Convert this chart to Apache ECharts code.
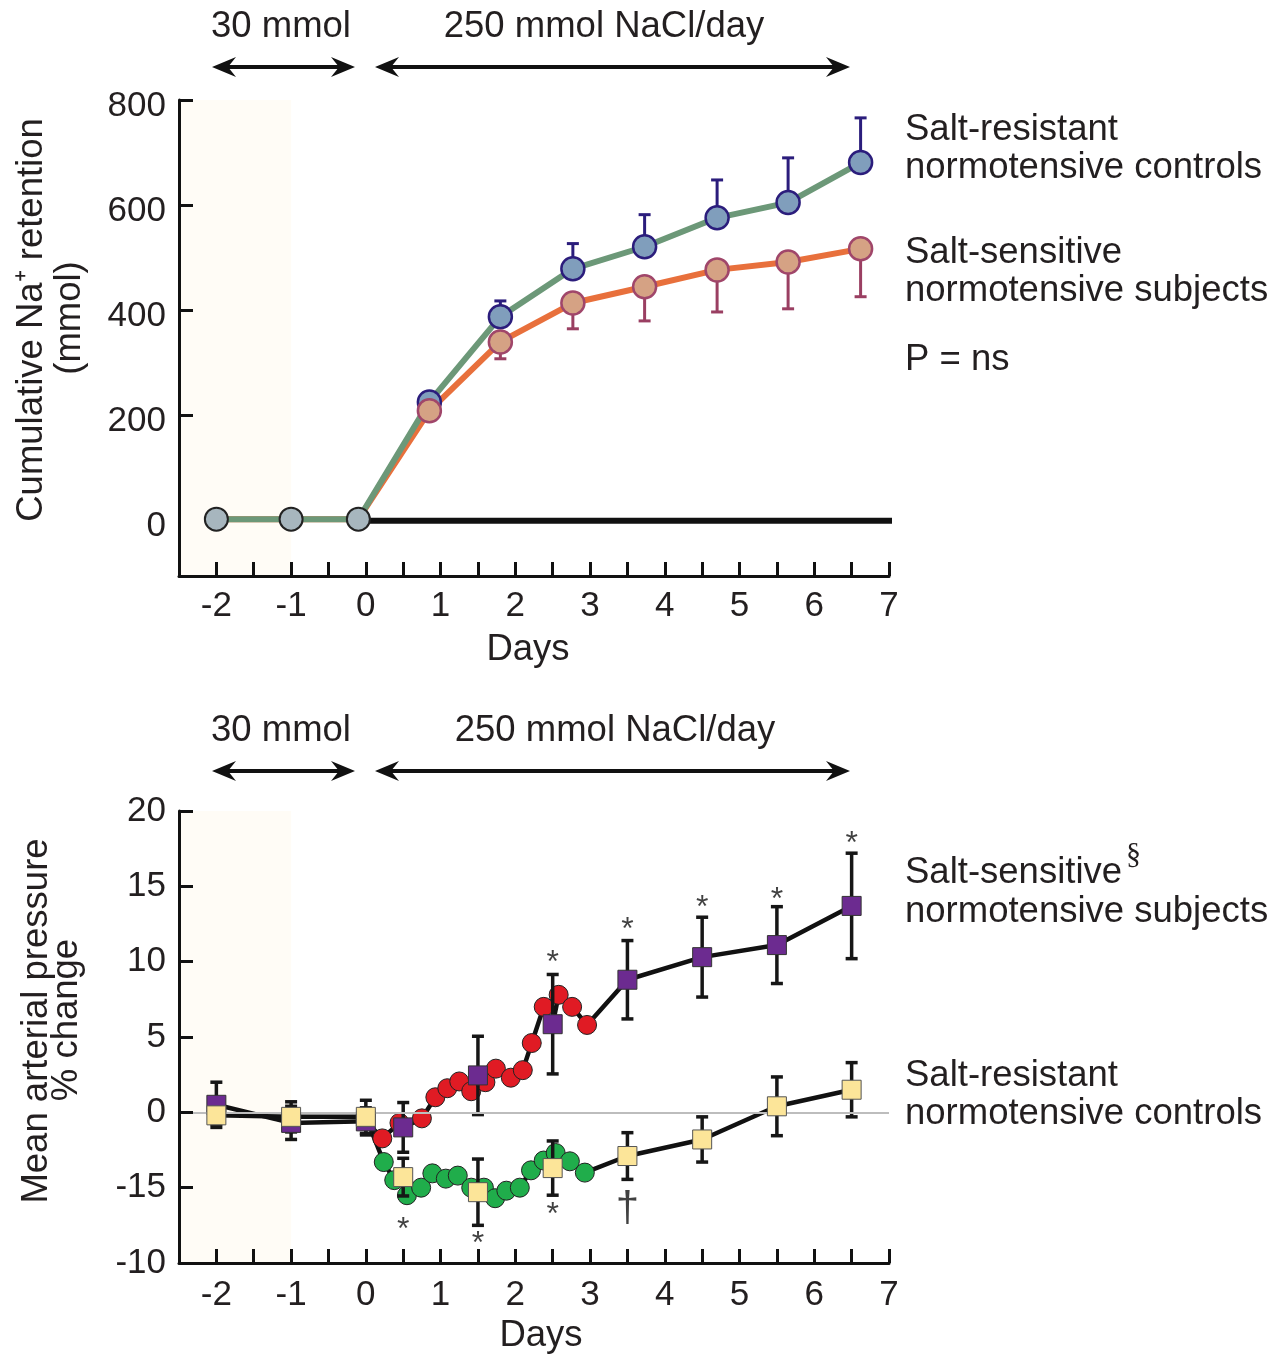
<!DOCTYPE html>
<html><head><meta charset="utf-8">
<script src="https://cdn.jsdelivr.net/npm/echarts@6/dist/echarts.min.js"></script>
<style>html,body{margin:0;padding:0;background:#fff}#c{width:1288px;height:1357px}</style>
</head><body><div id="c"></div>
<script>
// ---------- Top panel: cumulative Na+ retention (mmol) ----------
const naDays = [-2, -1, -0.1, 0.85, 1.8, 2.77, 3.73, 4.7, 5.65, 6.62];
const naResistant = [3, 3, 3, 226, 388, 479, 521, 576, 605, 681];
const naResistantErr = [0, 0, 0, 0, 30, 48, 61, 72, 85, 85];
const naSensitive = [3, 3, 3, 209, 340, 414, 445, 477, 492, 517];
const naSensitiveErr = [0, 0, 0, 0, 32, 49, 65, 80, 89, 91];
const naBaselinePhase = 3; // first points = 30 mmol period (grey markers)
const naZeroLine = [[-0.1, 0], [7.1, 0]];
const naTickValues = [0, 200, 400, 600, 800];

// ---------- Bottom panel: mean arterial pressure % change ----------
const mapDays = [-2, -1, 0, 0.5, 1.5, 2.5, 3.5, 4.5, 5.5, 6.5];
const mapSensitive = [0.5, -0.7, -0.6, -1.0, 2.45, 5.85, 8.8, 10.3, 11.1, 13.7];
const mapSensitiveErr = [1.5, 1.1, 0.9, 1.65, 2.6, 3.3, 2.6, 2.65, 2.55, 3.5];
const mapResistant = [-0.2, -0.3, -0.3, -4.3, -5.3, -3.7, -2.9, -1.8, 0.4, 1.5];
const mapResistantErr = [0.6, 1.0, 1.1, 1.25, 2.2, 1.8, 1.55, 1.5, 1.95, 1.8];
const contSensDays = [0.22, 0.45, 0.75, 0.93, 1.09, 1.25, 1.41, 1.6, 1.74, 1.94, 2.1, 2.22, 2.38, 2.58, 2.76, 2.96];
const contSens = [-1.73, -0.7, -0.4, 1.0, 1.6, 2.05, 1.4, 2.0, 2.9, 2.3, 2.8, 4.6, 7.0, 7.8, 7.0, 5.8];
const contResDays = [0.24, 0.38, 0.55, 0.74, 0.89, 1.07, 1.23, 1.41, 1.58, 1.73, 1.88, 2.06, 2.21, 2.38, 2.54, 2.73, 2.93];
const contRes = [-3.3, -4.5, -5.5, -5.0, -4.05, -4.4, -4.2, -5.0, -5.0, -5.7, -5.2, -5.0, -3.85, -3.2, -2.7, -3.25, -4.0];
const starsAbove = [[2.5, 10.4], [3.5, 12.6], [4.5, 14.1], [5.5, 14.6], [6.5, 18.3]];
const starsBelow = [[0.5, -7.3], [1.5, -8.2], [2.5, -6.3]];
const daggers = [[3.5, -6.3]];
const mapTickValues = [-10, -5, 0, 5, 10, 15, 20];
const mapTickLabels = ['-10', '-15', '0', '5', '10', '15', '20'];

const FONT = '"Liberation Sans", Arial, Helvetica, sans-serif';
const INK = '#231f20';
const TXT = 36.5;
const TICK = 35;

function zip(xs, ys) { return xs.map((x, i) => [x, ys[i]]); }
function merged(a, b) { return a.concat(b).sort((p, q) => p[0] - q[0]); }

function errBars(gi, days, vals, errs, dir, color, width, cap, z) {
  return {
    type: 'custom', xAxisIndex: gi, yAxisIndex: gi, z: z, silent: true,
    encode: { x: 0, y: 1 },
    data: days.map((d, i) => [d, vals[i], errs[i]]),
    renderItem: function (params, api) {
      const x = api.value(0), v = api.value(1), e = api.value(2);
      if (!e) return { type: 'group', children: [] };
      const c = api.coord([x, v]);
      const ends = [];
      if (dir >= 0) ends.push(api.coord([x, v + e]));
      if (dir <= 0) ends.push(api.coord([x, v - e]));
      const children = [];
      ends.forEach(p => {
        children.push({ type: 'line', shape: { x1: c[0], y1: c[1], x2: p[0], y2: p[1] }, style: { stroke: color, lineWidth: width } });
        children.push({ type: 'line', shape: { x1: p[0] - cap / 2, y1: p[1], x2: p[0] + cap / 2, y2: p[1] }, style: { stroke: color, lineWidth: width } });
      });
      return { type: 'group', children: children };
    }
  };
}

function xAxisCfg(gi) {
  return {
    type: 'value', gridIndex: gi, min: -2.5, max: 7, interval: 0.5, z: 10,
    axisLine: { show: true, onZero: false, lineStyle: { color: '#111', width: 3 } },
    axisTick: { show: true, inside: true, length: 14, lineStyle: { color: '#111', width: 3 } },
    axisLabel: { show: true, margin: gi === 0 ? 13 : 15, fontFamily: FONT, fontSize: TICK, color: INK,
      formatter: v => Number.isInteger(v) ? String(v) : '' },
    splitLine: { show: false }
  };
}

function txt(x, y, text, size, opts) {
  opts = opts || {};
  return {
    type: 'text', x: x, y: y, rotation: opts.rotation || 0, silent: true,
    style: { text: text, font: (size) + 'px ' + (opts.family || FONT), fill: INK,
      textAlign: opts.align || 'left', textVerticalAlign: 'middle',
      align: opts.align || 'left', verticalAlign: 'middle' }
  };
}

function arrow(x1, x2, y) {
  const L = 24, W = 10, N = 8;
  return [
    { type: 'line', silent: true, shape: { x1: x1 + 8, y1: y, x2: x2 - 8, y2: y }, style: { stroke: '#111', lineWidth: 4 } },
    { type: 'polygon', silent: true, shape: { points: [[x1, y], [x1 + L, y - W], [x1 + L - N, y], [x1 + L, y + W]] }, style: { fill: '#111' } },
    { type: 'polygon', silent: true, shape: { points: [[x2, y], [x2 - L, y - W], [x2 - L + N, y], [x2 - L, y + W]] }, style: { fill: '#111' } }
  ];
}

const naCircle = (fill, border) => (v, i) => ({
  value: v,
  itemStyle: i < naBaselinePhase
    ? { color: '#a7b6be', borderColor: '#222', borderWidth: 2, opacity: 1 }
    : { color: fill, borderColor: border, borderWidth: 2.5, opacity: 1 }
});

const chart = echarts.init(document.getElementById('c'), null, { renderer: 'canvas' });

const CREAM = '#fffcf6';

const option = {
  animation: false,
  backgroundColor: '#ffffff',
  grid: [
    { left: 179, right: 399, top: 100, bottom: 781 },
    { left: 179, right: 399, top: 811, bottom: 94 }
  ],
  xAxis: [xAxisCfg(0), xAxisCfg(1)],
  yAxis: [
    {
      type: 'value', gridIndex: 0, min: -105, max: 800, z: 10,
      axisLine: { show: true, onZero: false, lineStyle: { color: '#111', width: 3 } },
      axisTick: { show: true, inside: true, length: 14, customValues: naTickValues.slice(1), lineStyle: { color: '#111', width: 3 } },
      axisLabel: { show: true, margin: 13, color: INK, customValues: naTickValues,
        formatter: v => '{t|' + v + '}',
        rich: { t: { fontFamily: FONT, fontSize: TICK, color: INK, padding: [12, 0, 0, 0] } } },
      splitLine: { show: false }
    },
    {
      type: 'value', gridIndex: 1, min: -10, max: 20, interval: 5, z: 10,
      axisLine: { show: true, onZero: false, lineStyle: { color: '#111', width: 3 } },
      axisTick: { show: true, inside: true, length: 14, lineStyle: { color: '#111', width: 3 } },
      axisLabel: { show: true, margin: 13, fontFamily: FONT, fontSize: TICK, color: INK,
        formatter: v => { const k = mapTickValues.indexOf(v); return k >= 0 ? mapTickLabels[k] : ''; } },
      splitLine: { show: false }
    }
  ],
  series: [
    // ---- top panel ----
    {
      type: 'line', xAxisIndex: 0, yAxisIndex: 0, z: 1, silent: true, symbol: 'none', clip: false,
      data: naZeroLine, lineStyle: { color: '#111', width: 6 },
      markArea: { silent: true, itemStyle: { color: CREAM }, data: [[{ xAxis: -2.5 }, { xAxis: -1 }]] }
    },
    {
      name: 'Salt-sensitive', type: 'line', xAxisIndex: 0, yAxisIndex: 0, z: 2, silent: true, symbol: 'none',
      data: zip(naDays, naSensitive), lineStyle: { color: '#e8703c', width: 6 }
    },
    {
      name: 'Salt-resistant', type: 'line', xAxisIndex: 0, yAxisIndex: 0, z: 3, silent: true, symbol: 'none',
      data: zip(naDays, naResistant), lineStyle: { color: '#6c9878', width: 6 }
    },
    errBars(0, naDays, naResistant, naResistantErr, 1, '#2b1d7c', 3, 12, 4),
    errBars(0, naDays, naSensitive, naSensitiveErr, -1, '#9a3f62', 3, 12, 4),
    {
      type: 'scatter', xAxisIndex: 0, yAxisIndex: 0, z: 5, silent: true, symbol: 'circle', symbolSize: 23,
      data: zip(naDays, naResistant).map(naCircle('#809ebc', '#2b1d7c'))
    },
    {
      type: 'scatter', xAxisIndex: 0, yAxisIndex: 0, z: 6, silent: true, symbol: 'circle', symbolSize: 23,
      data: zip(naDays, naSensitive).map(naCircle('#d5a284', '#a0466a')).filter((d, i) => i >= naBaselinePhase)
    },
    // ---- bottom panel ----
    {
      type: 'line', xAxisIndex: 1, yAxisIndex: 1, z: 1, silent: true, symbol: 'none',
      data: merged(zip(mapDays, mapResistant), zip(contResDays, contRes)),
      lineStyle: { color: '#111', width: 4.5 },
      markArea: { silent: true, itemStyle: { color: CREAM }, data: [[{ xAxis: -2.5 }, { xAxis: -1 }]] },
      markLine: { silent: true, symbol: 'none', label: { show: false }, lineStyle: { color: '#bdbdbd', width: 2, type: 'solid' }, data: [{ yAxis: 0 }] }
    },
    {
      type: 'line', xAxisIndex: 1, yAxisIndex: 1, z: 1, silent: true, symbol: 'none',
      data: merged(zip(mapDays, mapSensitive), zip(contSensDays, contSens)),
      lineStyle: { color: '#111', width: 4.5 }
    },
    {
      type: 'scatter', xAxisIndex: 1, yAxisIndex: 1, z: 2, silent: true, symbol: 'circle', symbolSize: 19,
      data: zip(contResDays, contRes), itemStyle: { color: '#20ad4b', borderColor: '#222', borderWidth: 1, opacity: 1 }
    },
    {
      type: 'scatter', xAxisIndex: 1, yAxisIndex: 1, z: 2, silent: true, symbol: 'circle', symbolSize: 19,
      data: zip(contSensDays, contSens), itemStyle: { color: '#e01b24', borderColor: '#222', borderWidth: 1, opacity: 1 }
    },
    errBars(1, mapDays, mapSensitive, mapSensitiveErr, 0, '#161616', 3.5, 12, 3),
    errBars(1, mapDays, mapResistant, mapResistantErr, 0, '#161616', 3.5, 12, 3),
    {
      type: 'scatter', xAxisIndex: 1, yAxisIndex: 1, z: 4, silent: true, symbol: 'rect', symbolSize: 19,
      data: zip(mapDays, mapSensitive), itemStyle: { color: '#6c2b90', borderColor: '#333', borderWidth: 1, opacity: 1 }
    },
    {
      type: 'scatter', xAxisIndex: 1, yAxisIndex: 1, z: 5, silent: true, symbol: 'rect', symbolSize: 19,
      data: zip(mapDays, mapResistant), itemStyle: { color: '#fce599', borderColor: '#555', borderWidth: 1, opacity: 1 }
    },
    {
      type: 'scatter', xAxisIndex: 1, yAxisIndex: 1, z: 6, silent: true, symbolSize: 1,
      data: starsAbove.concat(starsBelow), itemStyle: { color: 'rgba(0,0,0,0)' },
      label: { show: true, position: 'inside', formatter: '*', fontFamily: FONT, fontSize: 32, color: '#111', offset: [0, 8] }
    },
    {
      type: 'scatter', xAxisIndex: 1, yAxisIndex: 1, z: 6, silent: true, symbolSize: 1,
      data: daggers, itemStyle: { color: 'rgba(0,0,0,0)' },
      label: { show: true, position: 'inside', formatter: '\u2020', fontFamily: FONT, fontSize: 42, color: '#111', offset: [0, 2] }
    }
  ],
  graphic: [].concat(
    arrow(212, 355, 67), arrow(375, 850, 67),
    arrow(212, 355, 771), arrow(375, 850, 771),
    [
      txt(281, 27, '30 mmol', TXT, { align: 'center' }),
      txt(604, 27, '250 mmol NaCl/day', TXT, { align: 'center' }),
      txt(281, 731, '30 mmol', TXT, { align: 'center' }),
      txt(615, 731, '250 mmol NaCl/day', TXT, { align: 'center' }),
      txt(528, 650, 'Days', TXT, { align: 'center' }),
      txt(541, 1336, 'Days', TXT, { align: 'center' }),
      txt(32, 320, 'Cumulative Na\u207A retention', TXT, { align: 'center', rotation: Math.PI / 2 }),
      txt(70, 318, '(mmol)', TXT, { align: 'center', rotation: Math.PI / 2 }),
      txt(37, 1021, 'Mean arterial pressure', TXT, { align: 'center', rotation: Math.PI / 2 }),
      txt(67, 1020, '% change', TXT, { align: 'center', rotation: Math.PI / 2 }),
      txt(905, 130, 'Salt-resistant', TXT),
      txt(905, 168, 'normotensive controls', TXT),
      txt(905, 253, 'Salt-sensitive', TXT),
      txt(905, 291, 'normotensive subjects', TXT),
      txt(905, 360, 'P = ns', TXT),
      txt(905, 873, 'Salt-sensitive', TXT),
      txt(1126, 855, '\u00A7', 30, { family: '"Liberation Serif", "DejaVu Serif", serif' }),
      txt(905, 912, 'normotensive subjects', TXT),
      txt(905, 1076, 'Salt-resistant', TXT),
      txt(905, 1114, 'normotensive controls', TXT)
    ]
  )
};
chart.setOption(option);
</script>
</body></html>
